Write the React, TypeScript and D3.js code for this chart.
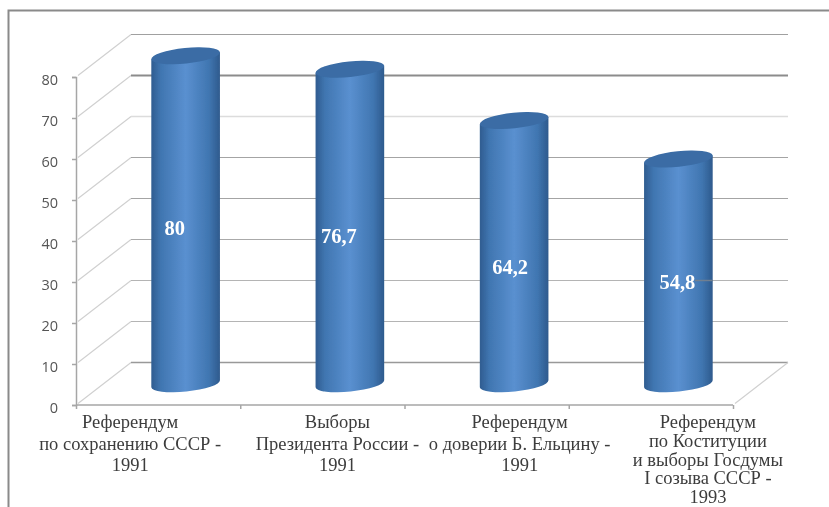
import React, { useEffect, useRef } from "react";
import * as d3 from "d3";

const width = 829;
const height = 507;
const margin = { top: 77, right: 96, bottom: 102, left: 76 };
const depth = { x: 55, y: 42.5 };

const categories = ["ref-ussr", "president", "ref-yeltsin", "ref-constitution"];
const values = [80, 76.7, 64.2, 54.8];
const valueLabels = ["80", "76,7", "64,2", "54,8"];
const yTicks = [0, 10, 20, 30, 40, 50, 60, 70, 80];
const categoryLines = [
  ["Референдум", "по сохранению СССР -", "1991"],
  ["Выборы", "Президента России -", "1991"],
  ["Референдум", "о доверии Б. Ельцину -", "1991"],
  ["Референдум", "по Коституции", "и выборы Госдумы", "I созыва СССР -", "1993"],
];

// the scan makes the back lines uneven, bottom to top
const gridColors = ["#999", "#b4b4b4", "#b4b4b4", "#aaa", "#a4a4a4", "#a4a4a4", "#dcdcdc", "#8c8c8c", "#a0a0a0"];
const gridWidths = [1.6, 1.1, 1.1, 1.2, 1.2, 1.2, 1.5, 2, 1.2];
// labels are not centred on the bands in the original
const labelShift = [-28, 15, 33, 57];
const valueLabelPos = [
  { dx: -11, y: 235 },
  { dx: -11, y: 243 },
  { dx: -4, y: 274 },
  { dx: -1, y: 289 },
];

const labelFont = "'Liberation Serif', serif";
const tickFont = "'Open Sans', sans-serif";

const xScale = d3
  .scaleBand<string>()
  .domain(categories)
  .range([margin.left, width - margin.right]);
const yScale = d3
  .scaleLinear()
  .domain([0, 80])
  .range([height - margin.bottom, margin.top]);

const tilt = 6; // degrees, the cylinder ends lean upwards to the right
const rx = 34.5;
const ry = 7.8;
const tiltX = rx * Math.cos((tilt * Math.PI) / 180);
const tiltY = rx * Math.sin((tilt * Math.PI) / 180);

function cylinderBody(cx: number, top: number, base: number) {
  const path = d3.path();
  path.moveTo(cx - tiltX, top + tiltY);
  path.lineTo(cx + tiltX, top - tiltY);
  path.lineTo(cx + tiltX, base - tiltY);
  const arc = `A${rx},${ry} ${-tilt} 0 1 ${cx - tiltX},${base + tiltY}`;
  return `${path.toString()}${arc}Z`;
}

export default function App() {
  const xAxisRef = useRef<SVGGElement>(null);
  const yAxisRef = useRef<SVGGElement>(null);

  useEffect(() => {
    const yAxis = d3
      .axisLeft(yScale)
      .tickValues(yTicks)
      .tickSize(4)
      .tickPadding(14);
    const ySel = d3.select(yAxisRef.current!).call(yAxis);
    ySel
      .selectAll("text")
      .attr("font-family", tickFont)
      .attr("font-size", 14.5)
      .attr("fill", "#555")
      .attr("dy", "0.5em");
    ySel.selectAll("line, path").attr("stroke", "#a6a6a6").attr("stroke-width", 1.5);

    // category ticks sit on band edges
    const edges = [...categories.map((c) => xScale(c)!), width - margin.right];
    const xAxis = d3
      .axisBottom(d3.scaleLinear().domain([0, width]).range([0, width]))
      .tickValues(edges)
      .tickSize(4)
      .tickSizeOuter(0)
      .tickFormat(() => "");
    const xSel = d3.select(xAxisRef.current!).call(xAxis);
    xSel.select("path.domain").attr("d", `M${margin.left},0H${width - margin.right}`);
    xSel.selectAll("line, path").attr("stroke", "#a6a6a6").attr("stroke-width", 1.5);
  }, []);

  const band = xScale.bandwidth();

  return (
    <svg
      width={width}
      height={height}
      style={{ position: "absolute", left: 0, top: 0, background: "#fff" }}
    >
      <defs>
        <linearGradient id="cyl" x1="0" x2="1" y1="0" y2="0">
          <stop offset="0" stopColor="#2f5c90" />
          <stop offset="0.14" stopColor="#4076b1" />
          <stop offset="0.5" stopColor="#5a90d0" />
          <stop offset="0.84" stopColor="#4076b1" />
          <stop offset="1" stopColor="#2e5a8d" />
        </linearGradient>
        <filter id="soft" x="-5%" y="-5%" width="110%" height="110%">
          <feGaussianBlur stdDeviation="0.45" />
        </filter>
      </defs>

      <path d={`M${width},10.5H8.5V${height}`} fill="none" stroke="#8a8a8a" strokeWidth="2" />

      <g filter="url(#soft)">
        {/* wall and back lines */}
        {yTicks.map((t, i) => {
          const y = yScale(t);
          return (
            <g key={t}>
              <line
                x1={margin.left + 2}
                y1={y - 1.5}
                x2={margin.left + depth.x}
                y2={y - depth.y}
                stroke="#d0d0d0"
                strokeWidth="1.2"
              />
              <line
                x1={margin.left + depth.x}
                y1={y - depth.y}
                x2={width - margin.right + depth.x}
                y2={y - depth.y}
                stroke={gridColors[i]}
                strokeWidth={gridWidths[i]}
              />
            </g>
          );
        })}
        <line
          x1={width - margin.right + 2}
          y1={yScale(0) - 1.5}
          x2={width - margin.right + depth.x}
          y2={yScale(0) - depth.y}
          stroke="#d0d0d0"
          strokeWidth="1.2"
        />

        {/* cylinders */}
        {categories.map((c, i) => {
          const cx = xScale(c)! + band / 2 + depth.x / 2;
          const base = yScale(0) - depth.y / 2;
          const top = yScale(values[i]) - depth.y / 2;
          return (
            <g key={c}>
              <path d={cylinderBody(cx, top, base)} fill="url(#cyl)" />
              <ellipse
                cx={cx}
                cy={top}
                rx={rx}
                ry={ry}
                fill="#3a6ca5"
                transform={`rotate(${-tilt} ${cx} ${top})`}
              />
            </g>
          );
        })}

        {/* stray grey line that crosses the last label in the source */}
        <line
          x1={xScale(categories[3])! + band / 2 + 44}
          y1={yScale(20) - depth.y}
          x2={xScale(categories[3])! + band / 2 + depth.x / 2 + rx}
          y2={yScale(20) - depth.y}
          stroke="#6f7f90"
          strokeWidth="1.5"
        />

        <g ref={yAxisRef} transform={`translate(${margin.left}, 0)`} />
        <g ref={xAxisRef} transform={`translate(0, ${yScale(0)})`} />

        {categories.map((c, i) => (
          <text
            key={c}
            x={xScale(c)! + band / 2 + depth.x / 2 + valueLabelPos[i].dx}
            y={valueLabelPos[i].y}
            textAnchor="middle"
            fontFamily={labelFont}
            fontWeight="bold"
            fontSize="20.5"
            fill="#fff"
          >
            {valueLabels[i]}
          </text>
        ))}

        {categoryLines.map((lines, i) => {
          const step = lines.length > 3 ? 18.8 : 21.5;
          const cx = xScale(categories[i])! + band / 2 + labelShift[i];
          return (
            <text
              key={categories[i]}
              textAnchor="middle"
              fontFamily={labelFont}
              fontSize="18.5"
              fill="#3c3c3c"
            >
              {lines.map((line, j) => (
                <tspan key={j} x={cx} y={428 + j * step}>
                  {line}
                </tspan>
              ))}
            </text>
          );
        })}
      </g>
    </svg>
  );
}
